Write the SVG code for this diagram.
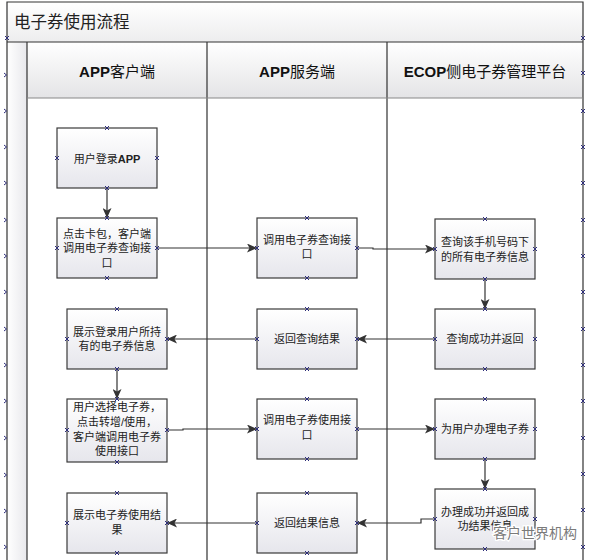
<svg xmlns="http://www.w3.org/2000/svg" width="595" height="560" viewBox="0 0 595 560">
<style>
.box{fill:url(#boxg);stroke:#3a3a3a;stroke-width:1.2}
.t{font-family:"Liberation Sans","Noto Sans CJK SC",sans-serif;font-size:11px;fill:#222;text-anchor:middle}
.h{font-family:"Liberation Sans","Noto Sans CJK SC",sans-serif;font-size:15px;font-weight:bold;fill:#111;text-anchor:middle}
.hc{font-family:"Noto Sans CJK SC",sans-serif;font-weight:normal}
.c{fill:none;stroke:#333;stroke-width:1.2}
.a{marker-end:url(#arr)}
.frame{stroke:#333;stroke-width:1.2;fill:none}
.xm{stroke:#2e2e7a;stroke-width:1;fill:none}
</style>
<defs>
<linearGradient id="boxg" x1="0" y1="0" x2="0" y2="1"><stop offset="0" stop-color="#ffffff"/><stop offset="1" stop-color="#e6e6ec"/></linearGradient>
<linearGradient id="headg" x1="0" y1="0" x2="0" y2="1"><stop offset="0" stop-color="#ffffff"/><stop offset="1" stop-color="#e4e4e6"/></linearGradient>
<linearGradient id="titleg" x1="0" y1="0" x2="0" y2="1"><stop offset="0" stop-color="#ffffff"/><stop offset="1" stop-color="#ededee"/></linearGradient>
<linearGradient id="colg" x1="0" y1="0" x2="1" y2="0"><stop offset="0" stop-color="#ffffff"/><stop offset="1" stop-color="#e8e8ec"/></linearGradient>
<marker id="arr" markerUnits="userSpaceOnUse" markerWidth="10" markerHeight="9" refX="10" refY="4.5" orient="auto"><path d="M0,0 L10,4.5 L0,9 L2.5,4.5 z" fill="#333"/></marker>
<path id="x" d="M-2,-2 L2,2 M-2,2 L2,-2" class="xm"/>
<path id="lx" d="M4,-2 L6.5,0 L4,2" class="xm"/>
</defs>

<g id="frame">
<rect x="7" y="2" width="576" height="40" fill="url(#titleg)"/>
<rect x="7" y="42" width="20" height="518" fill="url(#colg)"/>
<rect x="27" y="42" width="556" height="56" fill="url(#headg)"/>
<path class="frame" d="M7,560 V2 H583 V560 M7,42 H583 M27,42 V560 M207,42 V560 M387,42 V560"/>
<path d="M27,98 H583" stroke="#888" stroke-width="1"/>
<text x="14" y="28" font-family="Noto Sans CJK SC,sans-serif" font-size="16.5" fill="#222">电子券使用流程</text>
<text class="h" x="117" y="77">APP<tspan class="hc">客户端</tspan></text>
<text class="h" x="297" y="77">APP<tspan class="hc">服务端</tspan></text>
<text class="h" x="485" y="77">ECOP<tspan class="hc">侧电子券管理平台</tspan></text>
<g id="frame-markers">
<use href="#x" x="583" y="38"/><use href="#x" x="583" y="73"/>
<use href="#x" x="583" y="111"/><use href="#x" x="583" y="147"/><use href="#x" x="583" y="183"/><use href="#x" x="583" y="220"/><use href="#x" x="583" y="256"/><use href="#x" x="583" y="292"/><use href="#x" x="583" y="329"/><use href="#x" x="583" y="365"/><use href="#x" x="583" y="401"/><use href="#x" x="583" y="438"/><use href="#x" x="583" y="474"/><use href="#x" x="583" y="510"/><use href="#x" x="583" y="547"/>
<use href="#x" x="7" y="38"/><use href="#lx" x="0" y="75"/>
<use href="#lx" x="0" y="111"/><use href="#lx" x="0" y="147"/><use href="#lx" x="0" y="183"/><use href="#lx" x="0" y="220"/><use href="#lx" x="0" y="256"/><use href="#lx" x="0" y="292"/><use href="#lx" x="0" y="329"/><use href="#lx" x="0" y="365"/><use href="#lx" x="0" y="401"/><use href="#lx" x="0" y="438"/><use href="#lx" x="0" y="475"/><use href="#lx" x="0" y="511"/><use href="#lx" x="0" y="547"/>
</g>
</g>

<g id="connectors">
<path class="c a" d="M107,188 V218"/>
<path class="c a" d="M157,248 H257"/>
<path class="c a" d="M357,248 H373 V249 H435"/>
<path class="c a" d="M485,279 V309"/>
<path class="c a" d="M435,339 H357"/>
<path class="c a" d="M257,339 H167"/>
<path class="c a" d="M117,369 V399"/>
<path class="c a" d="M167,430 H183 V429 H257"/>
<path class="c a" d="M357,429 H435"/>
<path class="c a" d="M485,459 V489"/>
<path class="c a" d="M435,519 H421 V523 H357"/>
<path class="c a" d="M257,523 H167"/>
</g>

<g id="n1"><rect class="box" x="57" y="128" width="100" height="60"/><text class="t" x="107" y="163">用户登录<tspan font-weight="bold">APP</tspan></text></g>
<g id="n2"><rect class="box" x="57" y="218" width="100" height="60"/><text class="t" x="107" y="238">点击卡包，客户端</text><text class="t" x="107" y="252">调用电子券查询接</text><text class="t" x="107" y="267">口</text></g>
<g id="n3"><rect class="box" x="257" y="218" width="100" height="60"/><text class="t" x="307" y="244">调用电子券查询接</text><text class="t" x="307" y="258">口</text></g>
<g id="n4"><rect class="box" x="435" y="219" width="100" height="60"/><text class="t" x="485" y="246">查询该手机号码下</text><text class="t" x="485" y="261">的所有电子券信息</text></g>
<g id="n5"><rect class="box" x="67" y="309" width="100" height="60"/><text class="t" x="117" y="336">展示登录用户所持</text><text class="t" x="117" y="350">有的电子券信息</text></g>
<g id="n6"><rect class="box" x="67" y="399" width="100" height="63"/><text class="t" x="117" y="411">用户选择电子券，</text><text class="t" x="117" y="426">点击转增/使用，</text><text class="t" x="117" y="441">客户端调用电子券</text><text class="t" x="117" y="455">使用接口</text></g>
<g id="n7"><rect class="box" x="257" y="309" width="100" height="60"/><text class="t" x="307" y="343">返回查询结果</text></g>
<g id="n8"><rect class="box" x="435" y="309" width="100" height="60"/><text class="t" x="485" y="343">查询成功并返回</text></g>
<g id="n9"><rect class="box" x="257" y="399" width="100" height="60"/><text class="t" x="307" y="424">调用电子券使用接</text><text class="t" x="307" y="439">口</text></g>
<g id="n10"><rect class="box" x="435" y="399" width="100" height="60"/><text class="t" x="485" y="433">为用户办理电子券</text></g>
<g id="n11"><rect class="box" x="67" y="493" width="100" height="60"/><text class="t" x="117" y="519">展示电子券使用结</text><text class="t" x="117" y="534">果</text></g>
<g id="n12"><rect class="box" x="257" y="493" width="100" height="60"/><text class="t" x="307" y="527">返回结果信息</text></g>
<g id="n13"><rect class="box" x="435" y="489" width="100" height="60"/><text class="t" x="485" y="516">办理成功并返回成</text><text class="t" x="485" y="530">功结果信息</text></g>

<g id="box-markers">
<use href="#x" x="107" y="128"/><use href="#x" x="107" y="188"/><use href="#x" x="57" y="158"/><use href="#x" x="157" y="158"/>
<use href="#x" x="107" y="218"/><use href="#x" x="107" y="278"/><use href="#x" x="57" y="248"/><use href="#x" x="157" y="248"/>
<use href="#x" x="307" y="218"/><use href="#x" x="307" y="278"/><use href="#x" x="257" y="248"/><use href="#x" x="357" y="248"/>
<use href="#x" x="485" y="219"/><use href="#x" x="485" y="279"/><use href="#x" x="435" y="249"/><use href="#x" x="535" y="249"/>
<use href="#x" x="117" y="309"/><use href="#x" x="117" y="369"/><use href="#x" x="67" y="339"/><use href="#x" x="167" y="339"/>
<use href="#x" x="117" y="399"/><use href="#x" x="117" y="462"/><use href="#x" x="67" y="430"/><use href="#x" x="167" y="430"/>
<use href="#x" x="307" y="309"/><use href="#x" x="307" y="369"/><use href="#x" x="257" y="339"/><use href="#x" x="357" y="339"/>
<use href="#x" x="485" y="309"/><use href="#x" x="485" y="369"/><use href="#x" x="435" y="339"/><use href="#x" x="535" y="339"/>
<use href="#x" x="307" y="399"/><use href="#x" x="307" y="459"/><use href="#x" x="257" y="429"/><use href="#x" x="357" y="429"/>
<use href="#x" x="485" y="399"/><use href="#x" x="485" y="459"/><use href="#x" x="435" y="429"/><use href="#x" x="535" y="429"/>
<use href="#x" x="117" y="493"/><use href="#x" x="117" y="553"/><use href="#x" x="67" y="523"/><use href="#x" x="167" y="523"/>
<use href="#x" x="307" y="493"/><use href="#x" x="307" y="553"/><use href="#x" x="257" y="523"/><use href="#x" x="357" y="523"/>
<use href="#x" x="485" y="489"/><use href="#x" x="485" y="549"/><use href="#x" x="435" y="519"/><use href="#x" x="535" y="519"/>
</g>

<text x="493" y="538" font-family="Noto Sans CJK SC,sans-serif" font-size="14" fill="#7a7a7a" stroke="#ffffff" stroke-width="2.5" paint-order="stroke">客户世界机构</text>
</svg>
